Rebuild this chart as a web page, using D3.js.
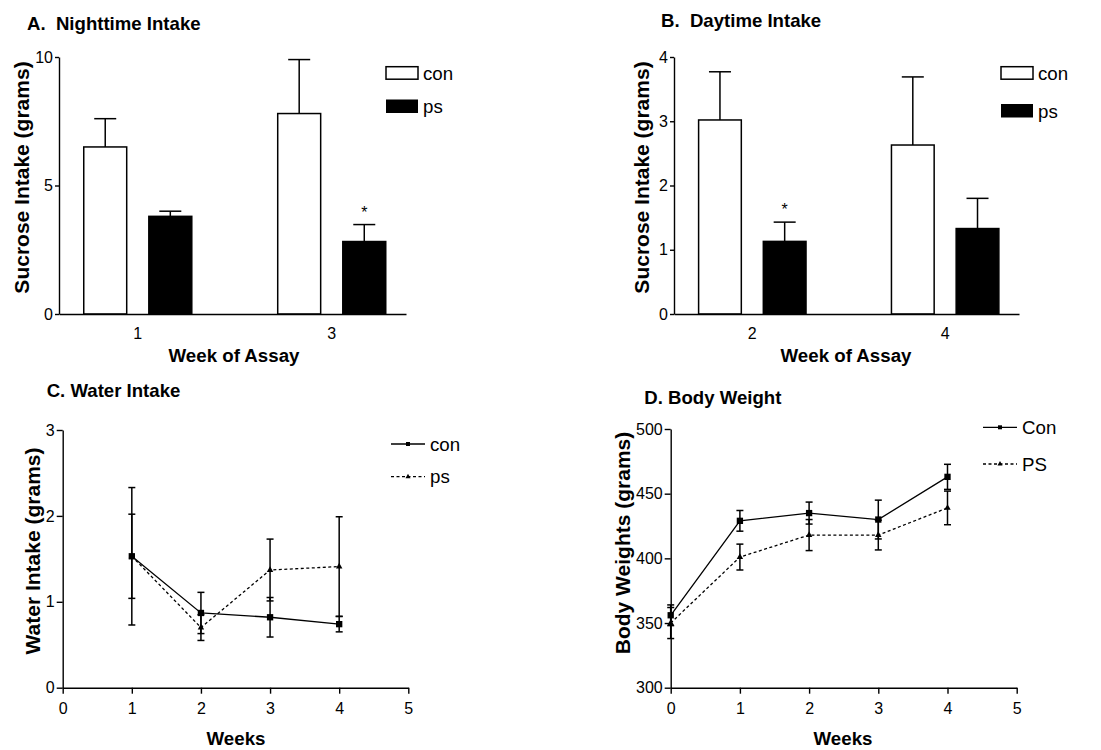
<!DOCTYPE html>
<html>
<head>
<meta charset="utf-8">
<script src="https://cdnjs.cloudflare.com/ajax/libs/d3/7.8.5/d3.min.js"></script>
<style>
  body { margin: 0; background: #fff; }
  svg text { font-family: "Liberation Sans", Arial, sans-serif; fill: #000; }
  .tick text { font-size: 16px; }
  .domain, .tick line { stroke: #000; stroke-width: 1.4px; }
</style>
</head>
<body>
<script>
// values
var nightWeeks = ["1", "3"];
var nightCon = [6.5, 7.8];
var nightConErr = [1.1, 2.1];
var nightPs = [3.8, 2.82];
var nightPsErr = [0.2, 0.66];
var nightSig = [false, true];   // asterisk over the ps bar

var dayWeeks = ["2", "4"];
var dayCon = [3.02, 2.63];
var dayConErr = [0.75, 1.06];
var dayPs = [1.13, 1.33];
var dayPsErr = [0.30, 0.47];
var daySig = [true, false];

var waterWeeks = [1, 2, 3, 4];
var waterCon = [1.53, 0.87, 0.82, 0.74];
var waterConErr = [0.49, 0.24, 0.23, 0.09];
var waterPs = [1.53, 0.70, 1.37, 1.41];
var waterPsErr = [0.80, 0.15, 0.36, 0.58];

var weightWeeks = [0, 1, 2, 3, 4];
var weightCon = [356, 429, 435, 430, 463];
var weightConErr = [8, 8, 8.5, 15, 9.7];
var weightPs = [350, 401, 418, 418, 439];
var weightPsErr = [12, 10, 12, 11.5, 13];

// tick labels
var nightTicks = [0, 5, 10];
var dayTicks = [0, 1, 2, 3, 4];
var waterTicks = [0, 1, 2, 3];
var weightTicks = [300, 350, 400, 450, 500];
var weekTicks = [0, 1, 2, 3, 4, 5];

var svg = d3.select("body")
  .append("svg")
    .attr("width", 1101)
    .attr("height", 750);

function addText(x, y, str, size, bold, anchor) {
  return svg.append("text")
      .attr("x", x)
      .attr("y", y)
      .style("font-size", size + "px")
      .style("font-weight", bold ? "bold" : "normal")
      .style("white-space", "pre")
      .attr("text-anchor", anchor || "start")
      .text(str);
}

function yLabel(x, y, str) {
  svg.append("text")
      .attr("transform", "translate(" + x + "," + y + ") rotate(-90)")
      .attr("text-anchor", "middle")
      .style("font-size", "21px")
      .style("font-weight", "bold")
      .text(str);
}

// bar panels (A and B)
function barPanel(p) {
  var x = d3.scaleBand().domain(p.weeks).range([p.left, p.right])
      .paddingInner(0.443).paddingOuter(0.116).align(0.55);
  var xs = d3.scaleBand().domain(["con", "ps"]).range([0, x.bandwidth()])
      .paddingInner(0.34);
  var y = d3.scaleLinear().domain([p.ticks[0], p.ticks[p.ticks.length - 1]])
      .range([p.bottom, p.top]);

  var rows = [];
  p.weeks.forEach(function(w, i) {
    rows.push({week: w, grp: "con", v: p.con[i], e: p.conErr[i], sig: false});
    rows.push({week: w, grp: "ps", v: p.ps[i], e: p.psErr[i], sig: p.sig[i]});
  });
  var cx = function(d) { return x(d.week) + xs(d.grp) + xs.bandwidth() / 2; };

  // error bars (upper half only)
  var err = svg.append("g").attr("stroke", "#000").attr("stroke-width", 1.5);
  err.selectAll("line.v").data(rows).enter().append("line")
      .attr("x1", cx).attr("x2", cx)
      .attr("y1", function(d) { return y(d.v); })
      .attr("y2", function(d) { return y(d.v + d.e); });
  err.selectAll("line.c").data(rows).enter().append("line")
      .attr("x1", function(d) { return cx(d) - 11; })
      .attr("x2", function(d) { return cx(d) + 11; })
      .attr("y1", function(d) { return y(d.v + d.e); })
      .attr("y2", function(d) { return y(d.v + d.e); });

  svg.append("g").selectAll("rect").data(rows).enter().append("rect")
      .attr("x", function(d) { return x(d.week) + xs(d.grp); })
      .attr("y", function(d) { return y(d.v); })
      .attr("width", xs.bandwidth())
      .attr("height", function(d) { return y(0) - y(d.v); })
      .attr("fill", function(d) { return d.grp == "con" ? "#fff" : "#000"; })
      .attr("stroke", "#000")
      .attr("stroke-width", 1.5);

  svg.append("g").selectAll("text").data(rows.filter(function(d) { return d.sig; }))
    .enter().append("text")
      .attr("x", cx)
      .attr("y", function(d) { return y(d.v + d.e) - 7; })
      .attr("text-anchor", "middle")
      .style("font-size", "16px")
      .text("*");

  // axes
  svg.append("g")
      .attr("transform", "translate(0," + p.bottom + ")")
      .call(d3.axisBottom(x).tickSize(0).tickPadding(14).tickSizeOuter(0));
  svg.append("g")
      .attr("transform", "translate(" + p.left + ",0)")
      .call(d3.axisLeft(y).tickValues(p.ticks).tickFormat(d3.format("d"))
        .tickSize(4).tickPadding(2).tickSizeOuter(0));

  // legend
  svg.append("rect").attr("x", p.legX).attr("y", p.legY[0]).attr("width", 32).attr("height", 12.5)
      .attr("fill", "#fff").attr("stroke", "#000").attr("stroke-width", 1.5);
  svg.append("rect").attr("x", p.legX).attr("y", p.legY[1]).attr("width", 32).attr("height", 13.5)
      .attr("fill", "#000");
  addText(p.legX + 37, p.legY[0] + 13.5, "con", 18.7, false);
  addText(p.legX + 37, p.legY[1] + 13.5, "ps", 18.7, false);
}

// line panels (C and D)
function linePanel(p) {
  var x = d3.scaleLinear().domain([0, 5]).range([p.left, p.right]);
  var y = d3.scaleLinear().domain([p.ticks[0], p.ticks[p.ticks.length - 1]])
      .range([p.bottom, p.top]);

  svg.append("g")
      .attr("transform", "translate(0," + p.bottom + ")")
      .call(d3.axisBottom(x).tickValues(weekTicks).tickFormat(d3.format("d"))
        .tickSize(6).tickPadding(9).tickSizeOuter(0));
  svg.append("g")
      .attr("transform", "translate(" + p.left + ",0)")
      .call(d3.axisLeft(y).tickValues(p.ticks).tickFormat(d3.format("d"))
        .tickSize(6).tickPadding(2).tickSizeOuter(0));

  var series = [
    {vals: p.ps, errs: p.psErr, dash: "3,2.5", sym: d3.symbolTriangle, size: 18},
    {vals: p.con, errs: p.conErr, dash: null, sym: d3.symbolSquare, size: 40}
  ];

  series.forEach(function(s) {
    var pts = p.weeks.map(function(w, i) { return {w: w, v: s.vals[i], e: s.errs[i]}; });
    var g = svg.append("g");

    g.selectAll("line.v").data(pts).enter().append("line")
        .attr("x1", function(d) { return x(d.w); })
        .attr("x2", function(d) { return x(d.w); })
        .attr("y1", function(d) { return y(d.v - d.e); })
        .attr("y2", function(d) { return y(d.v + d.e); })
        .attr("stroke", "#000").attr("stroke-width", 1.5);
    [-1, 1].forEach(function(sign) {
      g.selectAll("line.cap" + sign).data(pts).enter().append("line")
          .attr("x1", function(d) { return x(d.w) - 3.5; })
          .attr("x2", function(d) { return x(d.w) + 3.5; })
          .attr("y1", function(d) { return y(d.v + sign * d.e); })
          .attr("y2", function(d) { return y(d.v + sign * d.e); })
          .attr("stroke", "#000").attr("stroke-width", 1.5);
    });

    var line = d3.line()
        .x(function(d) { return x(d.w); })
        .y(function(d) { return y(d.v); });
    g.append("path")
        .datum(pts)
        .attr("d", line)
        .attr("fill", "none")
        .attr("stroke", "#000")
        .attr("stroke-width", 1.3)
        .attr("stroke-dasharray", s.dash);

    g.selectAll("path.m").data(pts).enter().append("path")
        .attr("transform", function(d) { return "translate(" + x(d.w) + "," + y(d.v) + ")"; })
        .attr("d", d3.symbol().type(s.sym).size(s.size))
        .attr("fill", "#000");
  });

  // legend
  var leg = [
    {label: p.names[0], yy: p.legY[0], dash: null, sym: d3.symbolSquare, size: 16},
    {label: p.names[1], yy: p.legY[1], dash: "3,2.5", sym: d3.symbolTriangle, size: 11}
  ];
  leg.forEach(function(l) {
    svg.append("line")
        .attr("x1", p.legX).attr("x2", p.legX + 34)
        .attr("y1", l.yy).attr("y2", l.yy)
        .attr("stroke", "#000").attr("stroke-width", 1.3)
        .attr("stroke-dasharray", l.dash);
    svg.append("path")
        .attr("transform", "translate(" + (p.legX + 17) + "," + l.yy + ")")
        .attr("d", d3.symbol().type(l.sym).size(l.size))
        .attr("fill", "#000");
    addText(p.legX + 39, l.yy + 6.5, l.label, 18.7, false);
  });
}

// A. Nighttime intake
barPanel({weeks: nightWeeks, con: nightCon, conErr: nightConErr, ps: nightPs, psErr: nightPsErr,
  sig: nightSig, ticks: nightTicks, left: 59, right: 406, top: 57, bottom: 314,
  legX: 386, legY: [66.7, 99.5]});
addText(27, 30, "A.  Nighttime Intake", 18.6, true);
yLabel(28.5, 177.5, "Sucrose Intake (grams)");
addText(234, 362, "Week of Assay", 18.7, true, "middle");

// B. Daytime intake
barPanel({weeks: dayWeeks, con: dayCon, conErr: dayConErr, ps: dayPs, psErr: dayPsErr,
  sig: daySig, ticks: dayTicks, left: 674, right: 1019, top: 57, bottom: 314,
  legX: 1001, legY: [66.7, 104]});
addText(661, 27, "B.  Daytime Intake", 18.6, true);
yLabel(649, 177.5, "Sucrose Intake (grams)");
addText(846, 362, "Week of Assay", 18.7, true, "middle");

// C. Water intake
linePanel({weeks: waterWeeks, con: waterCon, conErr: waterConErr, ps: waterPs, psErr: waterPsErr,
  ticks: waterTicks, left: 62.7, right: 408.3, top: 430, bottom: 687.7,
  legX: 391, legY: [444, 476.7], names: ["con", "ps"]});
addText(46.7, 396.7, "C. Water Intake", 18.6, true);
yLabel(39.5, 551, "Water Intake (grams)");
addText(236, 745, "Weeks", 18.7, true, "middle");

// D. Body weight
linePanel({weeks: weightWeeks, con: weightCon, conErr: weightConErr, ps: weightPs, psErr: weightPsErr,
  ticks: weightTicks, left: 670.7, right: 1016.7, top: 429, bottom: 687.7,
  legX: 983, legY: [427.3, 464], names: ["Con", "PS"]});
addText(644.3, 404, "D. Body Weight", 18.6, true);
yLabel(630, 543, "Body Weights (grams)");
addText(843, 745, "Weeks", 18.7, true, "middle");
</script>
</body>
</html>
